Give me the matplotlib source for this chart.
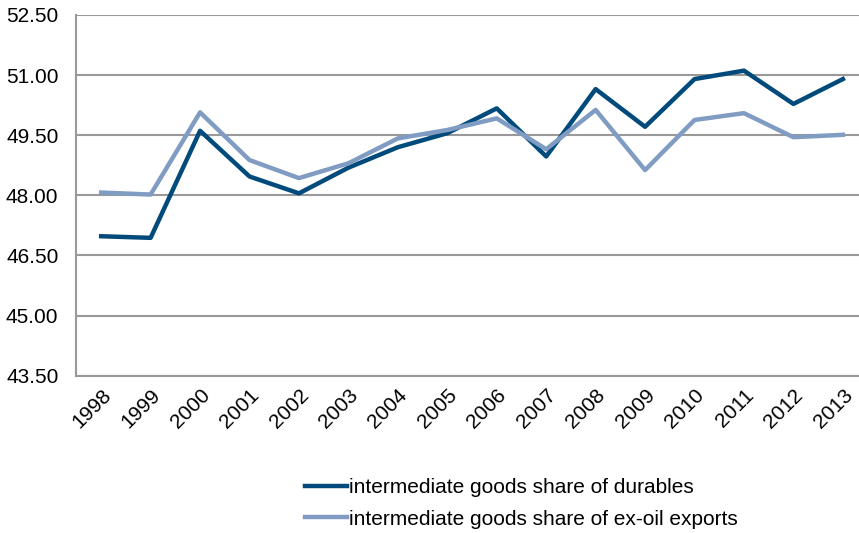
import matplotlib.pyplot as plt

plt.rcParams['font.family'] = ['Liberation Sans', 'DejaVu Sans']

years = ['1998', '1999', '2000', '2001', '2002', '2003', '2004', '2005',
         '2006', '2007', '2008', '2009', '2010', '2011', '2012', '2013']
durables = [46.98, 46.94, 49.61, 48.47, 48.05, 48.69, 49.20, 49.55,
            50.17, 48.97, 50.65, 49.71, 50.90, 51.11, 50.28, 50.90]
ex_oil = [48.07, 48.02, 50.07, 48.88, 48.43, 48.80, 49.42, 49.63,
          49.92, 49.15, 50.13, 48.63, 49.88, 50.05, 49.45, 49.51]
yticks = [43.5, 45.0, 46.5, 48.0, 49.5, 51.0, 52.5]

fig = plt.figure(figsize=(8.59, 5.33), dpi=100)
ax = fig.add_axes([0.089, 0.295, 0.921, 0.677])

x = range(len(years))
l1, = ax.plot(x, durables, color='#004a7c', linewidth=3.2,
              label='intermediate goods share of durables')
l2, = ax.plot(x, ex_oil, color='#819cc3', linewidth=3.2,
              label='intermediate goods share of ex-oil exports')

ax.set_xlim(-0.5, len(years) - 0.5)
ax.set_ylim(43.5, 52.5)
ax.set_yticks(yticks)
ax.set_yticklabels(['%.2f' % v for v in yticks])
ax.set_xticks(list(x))
ax.set_xticklabels(years, rotation=45, ha='right', rotation_mode='anchor')
ax.tick_params(axis='y', length=0, pad=13, labelsize=15)
ax.tick_params(axis='x', length=0, pad=7, labelsize=15)
ax.yaxis.grid(True, color='#999999', linewidth=1.5)
ax.set_axisbelow(True)
for s in ['top', 'right']:
    ax.spines[s].set_visible(False)
for s in ['left', 'bottom']:
    ax.spines[s].set_color('#999999')
    ax.spines[s].set_linewidth(1.5)

fig.legend(handles=[l1, l2], loc='upper left', bbox_to_anchor=(0.355, 0.103),
           frameon=False, fontsize=15, handlelength=2.0, handletextpad=0.1,
           labelspacing=0.6, borderaxespad=0, borderpad=0)

fig.savefig('out.png', dpi=100)
